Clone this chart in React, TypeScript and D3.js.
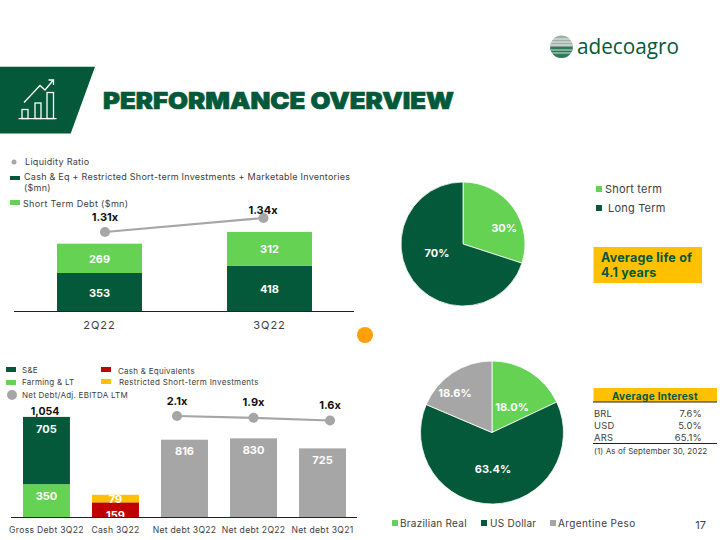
import React from "react";
import * as d3 from "d3";

const DARK = "#03593a", GREEN = "#65d254", GOLD = "#ffc000", RED = "#c00000", GRAY = "#a6a6a6", TEXT = "#404040";
const FONT = "Inter, 'Open Sans', sans-serif";

const liqQuarters = ["2Q22", "3Q22"];
const liqCash = [353, 418];
const liqDebt = [269, 312];
const liqRatio = [1.31, 1.34];

const debtCats = ["Gross Debt 3Q22", "Cash 3Q22", "Net debt 3Q22", "Net debt 2Q22", "Net debt 3Q21"];
const debtLower = [350, 159, 816, 830, 725];
const debtUpper = [705, 79, 0, 0, 0];
const netRatio = [2.1, 1.9, 1.6];
const ratioLabels = ["2.1x", "1.9x", "1.6x"];

const termLabels = ["Short term", "Long Term"];
const termValues = [30, 70];
const currencyLabels = ["Brazilian Real", "US Dollar", "Argentine Peso"];
const currencyValues = [18.0, 63.4, 18.6];
const interestNames = ["BRL", "USD", "ARS"];
const interestValues = ["7.6%", "5.0%", "65.1%"];

const T = ({ x, y, s = 9, c = TEXT, w = 400, a = "start", ls = 0, children }: any) => (
  <text x={x} y={y} fontSize={s} fill={c} fontWeight={w} textAnchor={a} letterSpacing={ls} fontFamily={FONT}>{children}</text>
);

function Pie({ cx, cy, r, values, colors, labels }: any) {
  const arcs = d3.pie<number>().sort(null)(values);
  const arc = d3.arc<any>().innerRadius(0).outerRadius(r);
  return (
    <g transform={`translate(${cx},${cy})`}>
      {arcs.map((a, i) => <path key={i} d={arc(a) as string} fill={colors[i]} stroke="#fff" strokeWidth={0.8} />)}
      {labels.map((l: any, i: number) => <T key={i} x={l.dx} y={l.dy} s={11} c="#fff" w={700} a="middle">{l.text}</T>)}
    </g>
  );
}

export default function App() {
  const yA = d3.scaleLinear().domain([0, 353]).range([311.5, 273]);
  const xA = d3.scaleBand().domain(liqQuarters).range([14.5, 354.5]).paddingInner(0.5).paddingOuter(0.25);
  const rA = d3.scaleLinear().domain([1.31, 1.34]).range([232, 218]);
  const ptA = (i: number) => xA(liqQuarters[i])! + xA.bandwidth() / 2 + (i ? -6 : 5.5);
  const lineA = d3.line<number>().x((_, i) => ptA(i)).y(d => rA(d));

  const yB = d3.scaleLinear().domain([0, 1054]).range([517.5, 417]);
  const xB = d3.scaleBand().domain(debtCats).range([12.65, 356.35]).paddingInner(0.32).paddingOuter(0.15);
  const rB = d3.scaleLinear().domain([2.1, 1.6]).range([416, 420.5]);
  const cB = (i: number) => xB(debtCats[i])! + xB.bandwidth() / 2;
  const ptB = (i: number) => cB(i + 2) + (i - 1) * 7.5;
  const lineB = d3.line<number>().x((_, i) => ptB(i)).y(d => rB(d));

  const h = (v: number) => yB(0) - yB(v);

  return (
    <svg width={720} height={540} style={{ position: "absolute", left: 0, top: 0, background: "#fff" }}>
      {/* logo */}
      <g>
        <circle cx={561.5} cy={46.7} r={11.3} fill="#9fb0a8" />
        <path d="M550.2,46.7 a11.3,11.3 0 0 0 22.6,0 z" fill="#2f7a58" />
        {[39, 42, 45, 50, 53].map(y => <line key={y} x1={551} x2={572} y1={y} y2={y} stroke="#fff" strokeWidth={0.8} />)}
        <text x={577} y={54} fontSize={22} fill={DARK} fontFamily="'Open Sans', sans-serif" textLength={102} lengthAdjust="spacingAndGlyphs">adecoagro</text>
      </g>
      {/* header */}
      <polygon points="0,66.7 95,66.7 70.7,133.5 0,133.5" fill={DARK} />
      <g stroke="#fff" fill="none" strokeWidth={1.3}>
        <rect x={22} y={109.5} width={6} height={9} />
        <rect x={35} y={103} width={6} height={15.5} />
        <rect x={47} y={92.5} width={6.5} height={26} />
        <line x1={18.5} y1={118.7} x2={56.5} y2={118.7} />
        <polyline points="24,102.5 40,85.5 45,90 53,80.5" />
        <polyline points="48.5,80 53.5,80 53.5,85" />
      </g>
      <text x={103} y={109} fontSize={23.5} fontWeight={900} fill={DARK} stroke={DARK} strokeWidth={0.7} fontFamily={FONT} textLength={351} lengthAdjust="spacingAndGlyphs">PERFORMANCE OVERVIEW</text>

      {/* chart 1 legend */}
      <circle cx={14} cy={162} r={2.5} fill={GRAY} />
      <T x={25} y={165} s={9} ls={0.3}>Liquidity Ratio</T>
      <rect x={10} y={176} width={10} height={4} fill={DARK} />
      <T x={24} y={180} s={9} ls={0.25}>Cash &amp; Eq + Restricted Short-term Investments + Marketable Inventories</T>
      <T x={24} y={191} s={9} ls={0.25}>($mn)</T>
      <rect x={10} y={200} width={10} height={5} fill={GREEN} />
      <T x={23} y={207} s={9} ls={0.35}>Short Term Debt ($mn)</T>

      {/* chart 1 */}
      {liqQuarters.map((q, i) => {
        const x = xA(q)!, w = xA.bandwidth();
        const y1 = yA(liqCash[i]), y2 = yA(liqCash[i] + liqDebt[i]);
        return (
          <g key={q}>
            <rect x={x} y={y1} width={w} height={yA(0) - y1} fill={DARK} />
            <rect x={x} y={y2} width={w} height={y1 - y2} fill={GREEN} />
            <T x={x + w / 2} y={(y1 + yA(0)) / 2 + 4.5} s={11} c="#fff" w={700} a="middle">{liqCash[i]}</T>
            <T x={x + w / 2} y={(y1 + y2) / 2 + 4.5} s={11} c="#fff" w={700} a="middle">{liqDebt[i]}</T>
            <T x={x + w / 2} y={329} s={11} a="middle" ls={1}>{q}</T>
          </g>
        );
      })}
      <line x1={14} x2={354} y1={311.5} y2={311.5} stroke="#222" strokeWidth={1} />
      <path d={lineA(liqRatio) as string} stroke={GRAY} strokeWidth={2.2} fill="none" />
      {liqRatio.map((r, i) => (
        <g key={i}>
          <circle cx={ptA(i)} cy={rA(r)} r={5} fill={GRAY} />
          <T x={i ? 263 : 105} y={i ? 214 : 221} s={11} c="#111" w={700} a="middle">{r.toFixed(2)}x</T>
        </g>
      ))}
      <circle cx={365} cy={335} r={8} fill="#ff9f0a" />

      {/* chart 2 legend */}
      <rect x={6} y={367} width={10} height={5} fill={DARK} />
      <T x={22} y={372.5} s={8} ls={0.25}>S&amp;E</T>
      <rect x={6} y={380} width={10} height={5} fill={GREEN} />
      <T x={22} y={385} s={8} ls={0.25}>Farming &amp; LT</T>
      <circle cx={12} cy={395} r={5} fill={GRAY} />
      <T x={22} y={397.5} s={8} ls={0.25}>Net Debt/Adj. EBITDA LTM</T>
      <rect x={101} y={367} width={10} height={5} fill={RED} />
      <T x={118} y={373.5} s={8} ls={0.25}>Cash &amp; Equivalents</T>
      <rect x={101} y={379} width={10} height={5} fill={GOLD} />
      <T x={119} y={385} s={8} ls={0.3}>Restricted Short-term Investments</T>

      {/* chart 2 */}
      {debtCats.map((c, i) => {
        const x = xB(c)!, w = xB.bandwidth();
        const lowerFill = i === 0 ? GREEN : i === 1 ? RED : GRAY;
        const upperFill = i === 0 ? DARK : GOLD;
        const y1 = yB(debtLower[i]), y2 = yB(debtLower[i] + debtUpper[i]);
        return (
          <g key={c}>
            <rect x={x} y={y1} width={w} height={h(debtLower[i])} fill={lowerFill} />
            {debtUpper[i] > 0 && <rect x={x} y={y2} width={w} height={y1 - y2} fill={upperFill} />}
            <T x={x + w / 2} y={i === 0 ? 500 : i === 1 ? 519 : y1 + 15.7} s={11} c="#fff" w={700} a="middle">{debtLower[i]}</T>
            {debtUpper[i] > 0 && <T x={x + w / 2} y={i === 0 ? 433 : 503} s={11} c="#fff" w={700} a="middle">{debtUpper[i]}</T>}
            <T x={x + w / 2} y={533} s={8.6} ls={0.3} a="middle">{c}</T>
          </g>
        );
      })}
      <line x1={11} x2={357} y1={517.5} y2={517.5} stroke="#222" strokeWidth={1} />
      <T x={45} y={415} s={10.5} c="#111" w={700} a="middle">1,054</T>
      <path d={lineB(netRatio) as string} stroke={GRAY} strokeWidth={2.2} fill="none" />
      {netRatio.map((r, i) => (
        <g key={i}>
          <circle cx={ptB(i)} cy={rB(r)} r={5} fill={GRAY} />
          <T x={ptB(i)} y={i === 2 ? 409 : i === 1 ? 406 : 405} s={11} c="#111" w={700} a="middle">{ratioLabels[i]}</T>
        </g>
      ))}

      {/* pie 1 */}
      <Pie cx={463} cy={244} r={62} values={termValues} colors={[GREEN, DARK]}
        labels={[{ text: "30%", dx: 41, dy: -12 }, { text: "70%", dx: -26, dy: 13 }]} />
      <rect x={596} y={186} width={6} height={6} fill={GREEN} />
      <T x={605} y={193} s={11} ls={0.2}>{termLabels[0]}</T>
      <rect x={596} y={205} width={6} height={6} fill={DARK} />
      <T x={608} y={212} s={11} ls={0.2}>{termLabels[1]}</T>
      <rect x={593.5} y={247} width={108.5} height={36} fill={GOLD} />
      <T x={601} y={262} s={12.5} c={DARK} w={700} ls={0.2}>Average life of</T>
      <T x={601} y={276.5} s={12.5} c={DARK} w={700} ls={0.2}>4.1 years</T>

      {/* pie 2 */}
      <Pie cx={492} cy={432.5} r={71.5} values={currencyValues} colors={[GREEN, DARK, GRAY]}
        labels={[{ text: "18.0%", dx: 20, dy: -21.5 }, { text: "63.4%", dx: 1, dy: 40.5 }, { text: "18.6%", dx: -37, dy: -35.5 }]} />
      <rect x={392} y={520} width={6} height={6} fill={GREEN} />
      <T x={400} y={527} s={10} ls={0.25}>{currencyLabels[0]}</T>
      <rect x={481} y={520} width={6} height={6} fill={DARK} />
      <T x={490} y={527} s={10} ls={0.25}>{currencyLabels[1]}</T>
      <rect x={550} y={520} width={6} height={6} fill={GRAY} />
      <T x={558} y={527} s={10} ls={0.4}>{currencyLabels[2]}</T>
      <T x={706} y={529} s={11} a="end">17</T>

      {/* table */}
      <rect x={593.5} y={388} width={123.5} height={14} fill={GOLD} />
      <line x1={593} x2={717} y1={402} y2={402} stroke="#222" strokeWidth={1} />
      <T x={655} y={399.5} s={10} c={DARK} w={700} ls={0.35} a="middle">Average Interest</T>
      {interestNames.map((n, i) => (
        <g key={n}>
          <T x={594} y={417 + i * 12} s={9.4} ls={0.2}>{n}</T>
          <T x={702} y={417 + i * 12} s={9.4} ls={0.2} a="end">{interestValues[i]}</T>
        </g>
      ))}
      <line x1={593} x2={717} y1={443.5} y2={443.5} stroke="#222" strokeWidth={1} />
      <T x={594} y={454} s={8} ls={0.08}>(1) As of September 30, 2022</T>
    </svg>
  );
}
